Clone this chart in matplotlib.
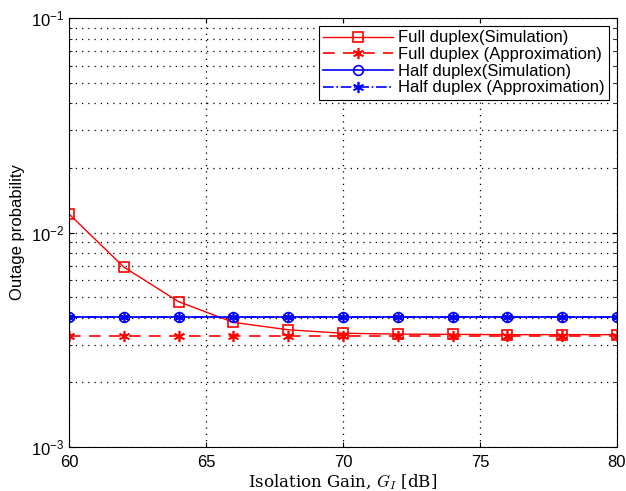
import matplotlib
matplotlib.use("Agg")
import matplotlib.pyplot as plt
import numpy as np

gain_db = [60, 62, 64, 66, 68, 70, 72, 74, 76, 78, 80]
fd_sim = [0.0122, 0.0069, 0.00476, 0.00381, 0.00352, 0.00339, 0.00336, 0.00335, 0.00334, 0.00334, 0.00334]
fd_approx = [0.00328] * 11
hd_sim = [0.00403] * 11
hd_approx = [0.00403] * 11

plt.rcParams['font.family'] = ['Liberation Sans', 'DejaVu Sans']
plt.rcParams['mathtext.fontset'] = 'cm'

fig = plt.figure(figsize=(6.26, 4.91), dpi=100)
ax = fig.add_axes([69/626, 1-447/491, (617-69)/626, (447-18)/491])

ast = (6, 2, 0)
ax.plot(gain_db, fd_sim, '-', color='red', lw=1.0, marker='s', ms=7, mfc='none', mec='red', mew=1.2,
        label='Full duplex(Simulation)')
ax.plot(gain_db, fd_approx, color='red', lw=1.2, marker=ast, ms=8, mec='red', mew=1.2,
        dashes=(7, 5), label='Full duplex (Approximation)')
ax.plot(gain_db, hd_sim, '-', color='blue', lw=1.2, marker='o', ms=7, mfc='none', mec='blue', mew=1.2,
        label='Half duplex(Simulation)')
ax.plot(gain_db, hd_approx, '-.', color='blue', lw=1.2, marker=ast, ms=8, mec='blue', mew=1.2,
        label='Half duplex (Approximation)')

ax.set_yscale('log')
ax.set_xlim(60, 80)
ax.set_ylim(1e-3, 1e-1)
ax.set_xticks([60, 65, 70, 75, 80])
ax.tick_params(which='both', direction='in', top=True, right=True, labelsize=12)
ax.tick_params(axis='x', pad=6)
ax.grid(True, which='major', linestyle=(0, (1, 4)), color='black', lw=0.9)
ax.grid(True, which='minor', axis='y', linestyle=(0, (1, 4)), color='black', lw=0.9)

ax.set_xlabel(r'Isolation Gain, $G_I$ [dB]', fontsize=12)
ax.xaxis.label.set_fontfamily(['DejaVu Serif'])
ax.xaxis.set_label_coords(0.5, -0.058)
ax.set_ylabel('Outage probability', fontsize=12)

leg = ax.legend(loc='upper right', fontsize=12, fancybox=False, edgecolor='black', framealpha=1,
                borderaxespad=0.5, handlelength=4.2, labelspacing=0.1, borderpad=0.25,
                handletextpad=0.3, numpoints=1)
leg.get_frame().set_linewidth(0.8)

for s in ax.spines.values():
    s.set_color('black')

fig.savefig('out.png', dpi=100)
